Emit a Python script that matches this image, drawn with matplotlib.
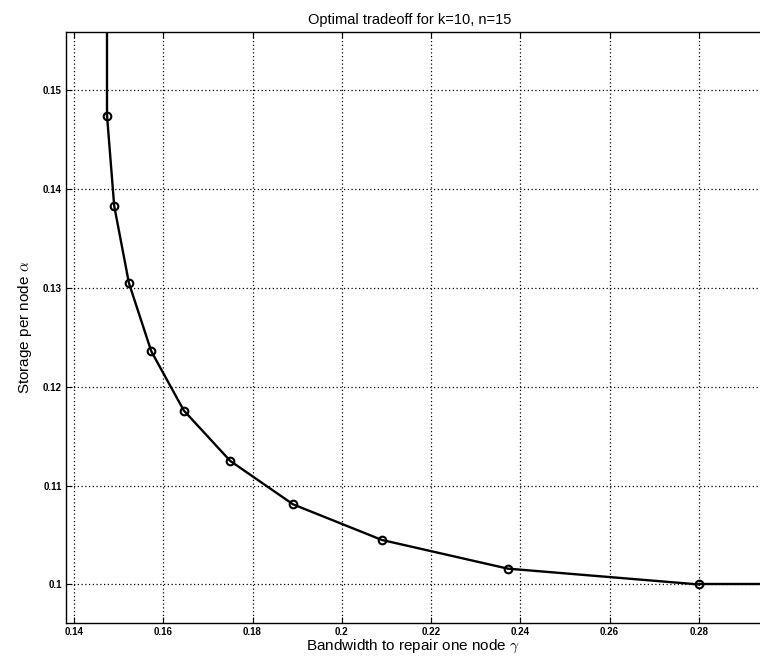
import numpy as np
import matplotlib
matplotlib.use('Agg')
import matplotlib.pyplot as plt

plt.rcParams['font.family'] = ['Liberation Sans', 'DejaVu Sans']
plt.rcParams['mathtext.fontset'] = 'cm'

# tradeoff points
gamma = [0.1474, 0.1490, 0.1523, 0.1573, 0.1646, 0.1750, 0.1891, 0.2090, 0.2372, 0.2800]
alpha = [0.1474, 0.1383, 0.1305, 0.1236, 0.1176, 0.1125, 0.1081, 0.1045, 0.1016, 0.1000]
xticks = [0.14, 0.16, 0.18, 0.2, 0.22, 0.24, 0.26, 0.28]
yticks = [0.1, 0.11, 0.12, 0.13, 0.14, 0.15]

xmin, xmax = 0.1382, 0.2937
ymin, ymax = 0.0961, 0.1559

fig = plt.figure(figsize=(7.6, 6.56), dpi=100)
ax = fig.add_axes([66/760, 1 - 623/656, (760 - 66)/760, (623 - 32)/656])

# vertical and horizontal tails
ax.plot([gamma[0], gamma[0]], [alpha[0], ymax + 0.01], color='black', lw=1.7)
ax.plot([gamma[-1], xmax + 0.01], [alpha[-1], alpha[-1]], color='black', lw=1.7)
ax.plot(gamma, alpha, color='black', lw=1.7, marker='o', ms=5.5,
        mfc='none', mec='black', mew=1.5)

ax.set_xlim(xmin, xmax)
ax.set_ylim(ymin, ymax)
ax.set_xticks(xticks)
ax.set_yticks(yticks)
ax.set_xticklabels([('%g' % t) for t in xticks])
ax.set_yticklabels([('%g' % t) for t in yticks])
ax.tick_params(direction='in', top=True, right=False, labelsize=7, length=4, width=0.8, pad=3)
for lab in ax.get_xticklabels() + ax.get_yticklabels():
    lab.set_fontweight('bold')
ax.grid(True, color='black', linestyle=(0, (1, 2)), linewidth=0.9)
ax.spines['right'].set_visible(False)
for s in ['left', 'top', 'bottom']:
    ax.spines[s].set_linewidth(1.0)

ax.set_xlabel(r'Bandwidth to repair one node $\gamma$', fontsize=11, labelpad=0)
ax.set_ylabel(r'Storage per node $\alpha$', fontsize=11, labelpad=6)
ax.set_title('Optimal tradeoff for k=10, n=15', fontsize=10.5, pad=6, x=0.495)

fig.savefig('out.png', dpi=100)
